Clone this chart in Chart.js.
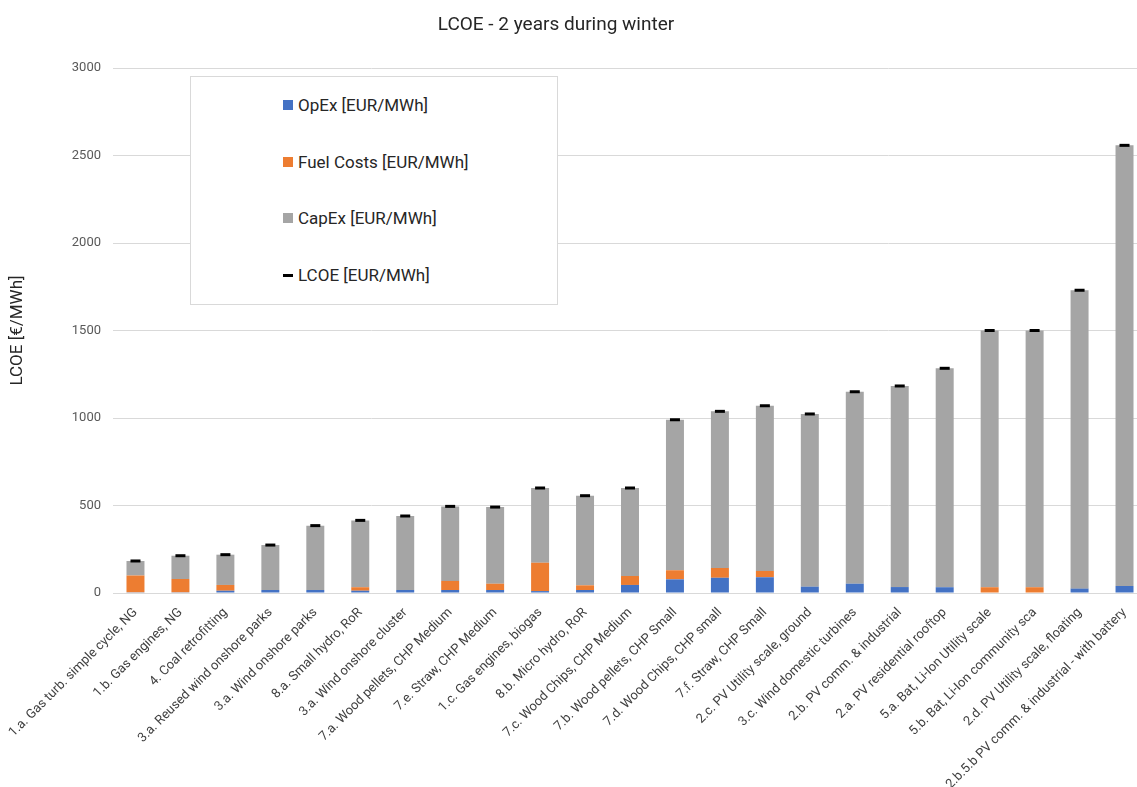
<!DOCTYPE html>
<html>
<head>
<meta charset="utf-8">
<script src="https://cdn.jsdelivr.net/npm/chart.js@4/dist/chart.umd.min.js"></script>
<style>
  html, body { margin: 0; padding: 0; background: #fff; overflow: hidden; }
  #wrap { position: relative; width: 1137px; height: 787px; overflow: hidden; }
  #chartBox { position: absolute; left: 0; top: 0; width: 1160px; height: 787px; }
  #title {
    position: absolute; left: 0; width: 1112px; top: 12px; text-align: center;
    font: 19px Roboto, "Liberation Sans", sans-serif; line-height: 24px; color: #262626;
  }
  #legend {
    position: absolute; left: 190px; top: 76px; width: 366px; height: 227px;
    border: 1px solid #d9d9d9; background: #fff;
    font: 17px Roboto, "Liberation Sans", sans-serif; color: #262626;
  }
  .item { position: absolute; left: 92px; height: 20px; line-height: 20px; white-space: nowrap; }
  .item .mk { position: absolute; left: 0; top: 5px; width: 10px; height: 10px; }
  .item .mk.dash { top: 9px; height: 3px; }
  .item span.tx { position: absolute; left: 15px; top: 0; }
</style>
</head>
<body>
<div id="wrap">
  <div id="chartBox"><canvas id="c"></canvas></div>
  <div id="title">LCOE - 2 years during winter</div>
  <div id="legend"></div>
</div>
<script>
// Technologies, ordered by levelised cost
const categories = [
  "1.a. Gas turb. simple cycle, NG",
  "1.b. Gas engines, NG",
  "4. Coal retrofitting",
  "3.a. Reused wind onshore parks",
  "3.a. Wind onshore parks",
  "8.a. Small hydro, RoR",
  "3.a. Wind onshore cluster",
  "7.a. Wood pellets, CHP Medium",
  "7.e. Straw, CHP Medium",
  "1.c. Gas engines, biogas",
  "8.b. Micro hydro, RoR",
  "7.c. Wood Chips, CHP Medium",
  "7.b. Wood pellets, CHP Small",
  "7.d. Wood Chips, CHP small",
  "7.f. Straw, CHP Small",
  "2.c. PV Utility scale, ground",
  "3.c. Wind domestic turbines",
  "2.b. PV comm. & industrial",
  "2.a. PV residential rooftop",
  "5.a. Bat, Li-Ion Utility scale",
  "5.b. Bat, Li-Ion community sca",
  "2.d. PV Utility scale, floating",
  "2.b.5.b PV comm. & industrial - with battery"
];

// Cost components [EUR/MWh]
const opex  = [4, 4, 13, 17, 17, 13, 17, 17, 17, 11, 17, 46, 78, 87, 90, 36, 53, 34, 33, 0, 0, 25, 40];
const fuel  = [96, 76, 33, 0, 0, 20, 0, 52, 36, 162, 27, 51, 52, 56, 36, 0, 0, 0, 0, 33, 33, 0, 0];
const capex = [83, 133, 173, 257, 368, 382, 423, 426, 438, 427, 512, 503, 860, 895, 944, 987, 1097, 1149, 1251, 1467, 1467, 1705, 2518];
// Total levelised cost of energy [EUR/MWh]
const lcoe  = [183, 213, 219, 274, 385, 415, 440, 495, 491, 600, 556, 600, 990, 1038, 1070, 1023, 1150, 1183, 1284, 1500, 1500, 1730, 2558];

// Value axis
const yMin = 0, yMax = 3000, yStep = 500;

const seriesNames = {
  opex: "OpEx [EUR/MWh]",
  fuel: "Fuel Costs [EUR/MWh]",
  capex: "CapEx [EUR/MWh]",
  lcoe: "LCOE [EUR/MWh]"
};
const colors = { opex: "#4472C4", fuel: "#ED7D31", capex: "#A5A5A5", lcoe: "#000000" };

const FONT = "Roboto, 'Liberation Sans', sans-serif";

const barCommon = { stack: "cost", categoryPercentage: 1.0, barPercentage: 0.4, borderWidth: 0, order: 2 };

new Chart(document.getElementById("c"), {
  data: {
    labels: categories,
    datasets: [
      Object.assign({ type: "bar", label: seriesNames.opex,  data: opex,  backgroundColor: colors.opex }, barCommon),
      Object.assign({ type: "bar", label: seriesNames.fuel,  data: fuel,  backgroundColor: colors.fuel }, barCommon),
      Object.assign({ type: "bar", label: seriesNames.capex, data: capex, backgroundColor: colors.capex }, barCommon),
      {
        type: "line", label: seriesNames.lcoe, data: lcoe, stack: "total", order: 1,
        showLine: false, pointStyle: "line", pointRadius: 5, pointHoverRadius: 5,
        pointBorderWidth: 3, pointBorderColor: colors.lcoe, borderColor: colors.lcoe,
        backgroundColor: colors.lcoe
      }
    ]
  },
  options: {
    responsive: true,
    maintainAspectRatio: false,
    animation: false,
    events: [],
    layout: { padding: { top: 68, right: 13, left: 0, bottom: 0 } },
    plugins: {
      legend: { display: false },
      title: { display: false },
      tooltip: { enabled: false }
    },
    scales: {
      x: {
        stacked: true,
        grid: { display: false },
        border: { display: true, color: "#d9d9d9", width: 1 },
        ticks: {
          autoSkip: false, maxRotation: 45, minRotation: 45, padding: 4,
          color: "#404040", font: { family: FONT, size: 13 }
        },
        afterFit: (s) => { s.height = 194; }
      },
      y: {
        stacked: true,
        min: yMin, max: yMax,
        grid: { color: "#d9d9d9", lineWidth: 1, drawTicks: false },
        border: { display: false },
        ticks: {
          stepSize: yStep, padding: 12,
          color: "#595959", font: { family: FONT, size: 13 },
          callback: (v) => String(v)
        },
        title: {
          display: true, text: "LCOE [€/MWh]", color: "#262626",
          font: { family: FONT, size: 17, lineHeight: 1.2 }, padding: { top: 8, bottom: 0 }
        },
        afterFit: (s) => { s.width = 113; }
      }
    }
  }
});

// Legend box
const legendBox = document.getElementById("legend");
const legendRows = [
  { key: "opex", y: 28 }, { key: "fuel", y: 85 }, { key: "capex", y: 141 }, { key: "lcoe", y: 198 }
];
legendRows.forEach((r) => {
  const row = document.createElement("div");
  row.className = "item";
  row.style.top = (r.y - 10) + "px";
  const mk = document.createElement("div");
  mk.className = "mk" + (r.key === "lcoe" ? " dash" : "");
  mk.style.background = colors[r.key];
  const tx = document.createElement("span");
  tx.className = "tx";
  tx.textContent = seriesNames[r.key];
  row.appendChild(mk);
  row.appendChild(tx);
  legendBox.appendChild(row);
});
</script>
</body>
</html>
